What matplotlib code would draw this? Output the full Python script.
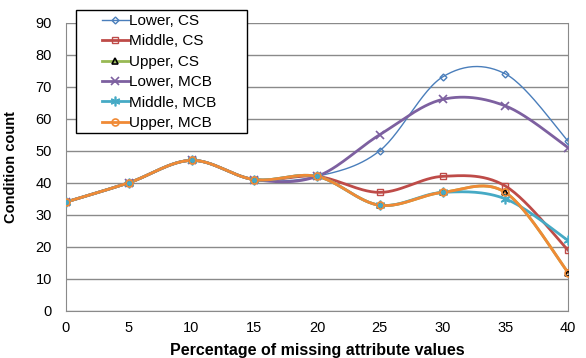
import numpy as np
import matplotlib
matplotlib.use("Agg")
import matplotlib.pyplot as plt
from matplotlib.patches import Rectangle

plt.rcParams['font.family'] = ['Liberation Sans', 'DejaVu Sans']

pct = [0, 5, 10, 15, 20, 25, 30, 35, 40]
lower_cs = [34, 40, 47, 41, 42, 50, 73, 74, 53]
middle_cs = [34, 40, 47, 41, 42, 37, 42, 39, 19]
upper_cs = [34, 40, 47, 41, 42, 33, 37, 37, 12]
lower_mcb = [34, 40, 47, 41, 42, 55, 66, 64, 51]
middle_mcb = [34, 40, 47, 41, 42, 33, 37, 35, 22]
upper_mcb = [34, 40, 47, 41, 42, 33, 37, 37, 12]


# excel-style smoothed line (catmull-rom through the points)
def smooth(x, y, n=30):
    x = np.asarray(x, float)
    y = np.asarray(y, float)
    px = np.concatenate([[x[0]], x, [x[-1]]])
    py = np.concatenate([[y[0]], y, [y[-1]]])
    xs, ys = [], []
    t = np.linspace(0, 1, n)
    for i in range(1, len(px) - 2):
        p0 = np.array([px[i], py[i]])
        p3 = np.array([px[i + 1], py[i + 1]])
        p1 = p0 + (np.array([px[i + 1], py[i + 1]]) - np.array([px[i - 1], py[i - 1]])) / 6
        p2 = p3 - (np.array([px[i + 2], py[i + 2]]) - np.array([px[i], py[i]])) / 6
        b = ((1 - t) ** 3)[:, None] * p0 + (3 * (1 - t) ** 2 * t)[:, None] * p1 \
            + (3 * (1 - t) * t ** 2)[:, None] * p2 + (t ** 3)[:, None] * p3
        xs.extend(b[:, 0])
        ys.extend(b[:, 1])
    return xs, ys


series = [
    ("Lower, CS", lower_cs, "#4A7EBB", "D", 1.0, dict(ms=3.5, mfc="none", mew=1)),
    ("Middle, CS", middle_cs, "#BE4B48", "s", 2.0, dict(ms=5, mfc="none", mew=1)),
    ("Upper, CS", upper_cs, "#98B954", "^", 2.0, dict(ms=4, mfc="none", mec="black", mew=1.2)),
    ("Lower, MCB", lower_mcb, "#7D60A0", "x", 2.0, dict(ms=6, mew=1.2)),
    ("Middle, MCB", middle_mcb, "#46AAC5", (6, 2, 0), 2.0, dict(ms=7, mew=1.2)),
    ("Upper, MCB", upper_mcb, "#F08A35", "o", 2.0, dict(ms=5, mfc="none", mew=1.2)),
]

W, H = 586, 358
fig = plt.figure(figsize=(W / 100, H / 100), dpi=100)
ax = fig.add_axes([66 / W, 1 - 311 / H, (568 - 66) / W, (311 - 22.5) / H])

handles = []
for label, vals, color, marker, lw, mk in series:
    sx, sy = smooth(pct, vals)
    ax.plot(sx, sy, color=color, lw=lw, zorder=3)
    ax.plot(pct, vals, ls="none", marker=marker, color=color, zorder=4, **mk)
    h, = ax.plot([], [], color=color, lw=lw, marker=marker, **mk)
    h.set_label(label)
    handles.append(h)

ax.set_xlim(0, 40)
ax.set_ylim(0, 90)
ax.set_xticks(pct)
ax.set_yticks(range(0, 91, 10))
ax.grid(True, axis='y', color='#8A8A8A', lw=1)
ax.set_axisbelow(True)
ax.spines["top"].set_visible(False)
for s in ["left", "bottom", "right"]:
    ax.spines[s].set_color('#8A8A8A')
ax.tick_params(length=0, labelsize=10.5)
ax.tick_params(axis='x', pad=7)
ax.tick_params(axis='y', pad=10)

ax.set_xlabel("Percentage of missing attribute values", fontweight="bold", fontsize=11.5, labelpad=6)
ax.set_ylabel("Condition count", fontweight="bold", fontsize=10.5, labelpad=13)

# legend box drawn separately so the left padding matches
fig.patches.append(Rectangle((76 / W, 1 - 133 / H), 171 / W, 123 / H,
                             transform=fig.transFigure, facecolor="white",
                             edgecolor="black", lw=1, zorder=5))
leg = fig.legend(handles=handles, loc="upper left", bbox_to_anchor=(99 / W, 1 - 11 / H),
                 fontsize=11, frameon=False, handlelength=1.75, handletextpad=0.0,
                 labelspacing=0.42, borderpad=0.2, borderaxespad=0)
leg.set_zorder(6)

fig.savefig("out.png", dpi=100)
